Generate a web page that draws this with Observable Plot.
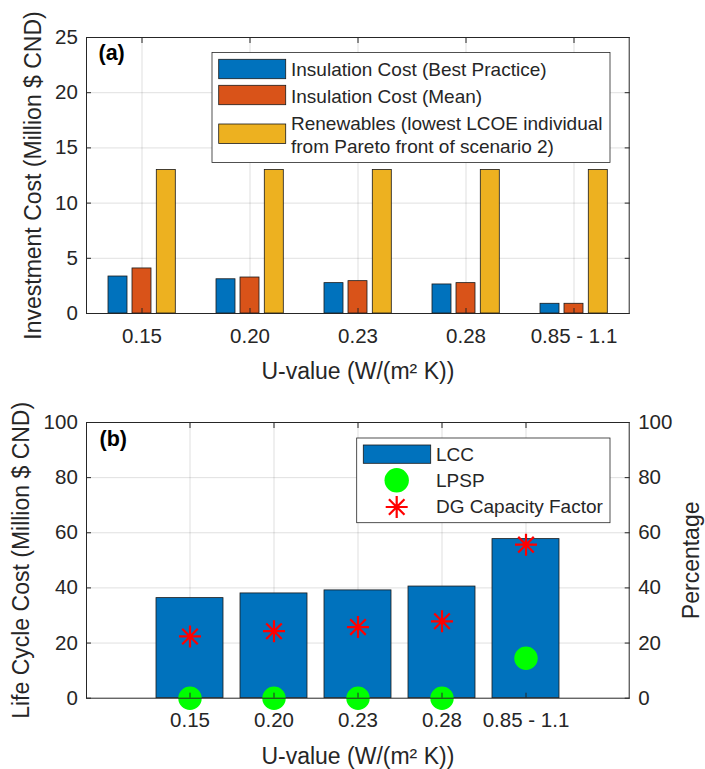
<!DOCTYPE html>
<html>
<head>
<meta charset="utf-8">
<script src="https://cdn.jsdelivr.net/npm/d3@7"></script>
<script src="https://cdn.jsdelivr.net/npm/@observablehq/plot@0.6"></script>
<style>
  html, body { margin: 0; padding: 0; background: #fff; }
  #chart { width: 705px; }
  #chart svg { display: block; }
</style>
</head>
<body>
<div id="chart"></div>
<script>
// ---------- data ----------
const categories = ["0.15", "0.20", "0.23", "0.28", "0.85 - 1.1"];

// panel (a): investment cost (Million $ CND)
const insulationBestPractice = [3.35, 3.10, 2.75, 2.63, 0.88];
const insulationMean = [4.08, 3.26, 2.93, 2.75, 0.88];
const renewables = [13, 13, 13, 13, 13];
const yTicksA = [0, 5, 10, 15, 20, 25];
const legendA = [
  ["Insulation Cost (Best Practice)"],
  ["Insulation Cost (Mean)"],
  ["Renewables (lowest LCOE individual", "from Pareto front of scenario 2)"]
];

// panel (b): life cycle cost + percentages
const lcc = [36.3, 38.0, 39.1, 40.5, 57.7];
const lpsp = [0, 0, 0, 0, 14.5];
const dgCapacityFactor = [22.4, 24.3, 25.8, 27.9, 55.7];
const yTicksB = [0, 20, 40, 60, 80, 100];
const legendB = ["LCC", "LPSP", "DG Capacity Factor"];

const xLabel = "U-value (W/(m\u00B2 K))";
const yLabelA = "Investment Cost (Million $ CND)";
const yLabelB = "Life Cycle Cost (Million $ CND)";
const yLabelB2 = "Percentage";

// ---------- style ----------
const FONT = "'Liberation Sans', Arial, Helvetica, sans-serif";
const INK = "#262626";
const EDGE = "#1a1a1a";
const BLUE = "#0072BD", ORANGE = "#D95319", YELLOW = "#EDB120";
const GREEN = "#00FF00", RED = "#FF0000";
const colorsA = [BLUE, ORANGE, YELLOW];
const LEGEND_FS = 19;

// MATLAB-like '*' marker (8 spokes)
const matlabStar = {
  draw(ctx, size) {
    const r = Math.sqrt(size / Math.PI);
    const d = r * Math.SQRT1_2;
    ctx.moveTo(-r, 0); ctx.lineTo(r, 0);
    ctx.moveTo(0, -r); ctx.lineTo(0, r);
    ctx.moveTo(-d, -d); ctx.lineTo(d, d);
    ctx.moveTo(-d, d); ctx.lineTo(d, -d);
  }
};

const tableA = categories.map((c, i) => ({
  cat: c, best: insulationBestPractice[i], mean: insulationMean[i], ren: renewables[i]
}));
const tableB = categories.map((c, i) => ({
  cat: c, lcc: lcc[i], lpsp: lpsp[i], dg: dgCapacityFactor[i]
}));

const grid = {stroke: INK, strokeOpacity: 0.14, strokeWidth: 1};
const barStyle = {stroke: EDGE, strokeWidth: 0.8};

// ---------- panel (a) ----------
const plotA = Plot.plot({
  width: 705, height: 392,
  marginLeft: 86, marginRight: 76.3, marginTop: 37, marginBottom: 79,
  style: {fontFamily: FONT, color: INK, background: "#fff", overflow: "visible"},
  x: {type: "band", domain: categories, paddingInner: 0.8213, paddingOuter: 0.4107},
  y: {domain: [0, 25]},
  marks: [
    Plot.gridX({...grid}),
    Plot.gridY(yTicksA.slice(1, -1), {...grid}),
    Plot.barY(tableA, {x: "cat", y: "best", dx: -24, fill: colorsA[0], ...barStyle}),
    Plot.barY(tableA, {x: "cat", y: "mean", dx: 0, fill: colorsA[1], ...barStyle}),
    Plot.barY(tableA, {x: "cat", y: "ren", dx: 24.3, fill: colorsA[2], ...barStyle}),
    Plot.axisX({anchor: "bottom", tickSize: -5, tickPadding: 20, fontSize: 20.5, label: null, stroke: INK}),
    Plot.axisX({anchor: "top", tickSize: -5, fill: "none", label: null, stroke: INK}),
    Plot.axisY(yTicksA, {anchor: "left", tickSize: -5, tickPadding: 13.7, fontSize: 20.5, label: null, stroke: INK}),
    Plot.axisY(yTicksA, {anchor: "right", tickSize: -5, fill: "none", label: null, stroke: INK}),
    Plot.frame({stroke: INK, strokeWidth: 1}),
    Plot.text(["(a)"], {text: d => d, frameAnchor: "top-left", dx: 12, dy: 22, textAnchor: "start", lineAnchor: "bottom", fontWeight: "bold", fontSize: 21.5, fill: "#000"}),
    Plot.text([xLabel], {text: d => d, frameAnchor: "bottom", dy: 65.3, textAnchor: "middle", lineAnchor: "bottom", fontSize: 23}),
    Plot.text([yLabelA], {text: d => d, frameAnchor: "left", dx: -53, rotate: -90, textAnchor: "middle", lineAnchor: "middle", fontSize: 23})
  ]
});

// legend (a)
{
  const svg = d3.select(plotA);
  const g = svg.append("g").attr("font-family", FONT).attr("font-size", LEGEND_FS)
    .attr("fill", INK).attr("text-anchor", "start");
  g.append("rect").attr("x", 212).attr("y", 52.5).attr("width", 398).attr("height", 110)
    .attr("fill", "#fff").attr("stroke", INK).attr("stroke-width", 0.8);
  const rowCenters = [69, 95, 133.7];
  const firstBaselines = [76, 102.7, 130];
  legendA.forEach((lines, k) => {
    g.append("rect").attr("x", 218.7).attr("y", rowCenters[k] - 9.7).attr("width", 67).attr("height", 19.4)
      .attr("fill", colorsA[k]).attr("stroke", EDGE).attr("stroke-width", 0.8);
    const t = g.append("text").attr("x", 291).attr("y", firstBaselines[k]).attr("text-anchor", "start");
    lines.forEach((ln, j) => {
      t.append("tspan").attr("x", 291).attr("dy", j === 0 ? 0 : 22.7).text(ln);
    });
  });
}

// ---------- panel (b) ----------
const plotB = Plot.plot({
  width: 705, height: 377,
  marginLeft: 86, marginRight: 76.3, marginTop: 30, marginBottom: 71.3,
  style: {fontFamily: FONT, color: INK, background: "#fff", overflow: "visible"},
  x: {type: "band", domain: categories, paddingInner: 0.197, paddingOuter: 0.80},
  y: {domain: [0, 100]},
  marks: [
    Plot.gridX({...grid}),
    Plot.gridY(yTicksB.slice(1, -1), {...grid}),
    Plot.barY(tableB, {x: "cat", y: "lcc", fill: BLUE, ...barStyle}),
    Plot.dot(tableB, {x: "cat", y: "lpsp", r: 11.7, fill: GREEN, stroke: "none"}),
    Plot.dot(tableB, {x: "cat", y: "dg", r: 11, symbol: matlabStar, fill: "none", stroke: RED, strokeWidth: 2.2}),
    Plot.axisX({anchor: "bottom", tickSize: -5, tickPadding: 19, fontSize: 20.5, label: null, stroke: INK}),
    Plot.axisX({anchor: "top", tickSize: -5, fill: "none", label: null, stroke: INK}),
    Plot.axisY(yTicksB, {anchor: "left", tickSize: -5, tickPadding: 13.7, fontSize: 20.5, label: null, stroke: INK}),
    Plot.axisY(yTicksB, {anchor: "right", tickSize: -5, tickPadding: 14, fontSize: 20.5, label: null, stroke: INK}),
    Plot.frame({stroke: INK, strokeWidth: 1}),
    Plot.text(["(b)"], {text: d => d, frameAnchor: "top-left", dx: 13, dy: 23.5, textAnchor: "start", lineAnchor: "bottom", fontWeight: "bold", fontSize: 21.5, fill: "#000"}),
    Plot.text([xLabel], {text: d => d, frameAnchor: "bottom", dy: 65.6, textAnchor: "middle", lineAnchor: "bottom", fontSize: 23}),
    Plot.text([yLabelB], {text: d => d, frameAnchor: "left", dx: -65, rotate: -90, textAnchor: "middle", lineAnchor: "middle", fontSize: 23}),
    Plot.text([yLabelB2], {text: d => d, frameAnchor: "right", dx: 62, rotate: -90, textAnchor: "middle", lineAnchor: "middle", fontSize: 23})
  ]
});

// legend (b)
{
  const svg = d3.select(plotB);
  const g = svg.append("g").attr("font-family", FONT).attr("font-size", LEGEND_FS)
    .attr("fill", INK).attr("text-anchor", "start");
  g.append("rect").attr("x", 356.7).attr("y", 46).attr("width", 253.3).attr("height", 84.7)
    .attr("fill", "#fff").attr("stroke", INK).attr("stroke-width", 0.8);
  const baselines = [69.3, 95, 121];
  g.append("rect").attr("x", 363.3).attr("y", 53).attr("width", 67.4).attr("height", 18.3)
    .attr("fill", BLUE).attr("stroke", EDGE).attr("stroke-width", 0.8);
  g.append("circle").attr("cx", 396.7).attr("cy", 88.3).attr("r", 12.2).attr("fill", GREEN);
  g.append("path").attr("transform", "translate(396.7,115)")
    .attr("d", d3.symbol(matlabStar, Math.PI * 11 * 11)())
    .attr("fill", "none").attr("stroke", RED).attr("stroke-width", 2.2);
  legendB.forEach((label, k) => {
    g.append("text").attr("x", 436).attr("y", baselines[k]).attr("text-anchor", "start").text(label);
  });
}

const chart = document.getElementById("chart");
chart.appendChild(plotA);
chart.appendChild(plotB);
</script>
</body>
</html>
